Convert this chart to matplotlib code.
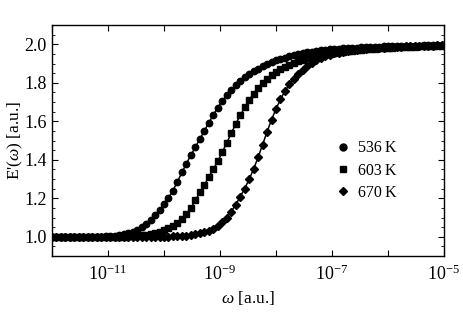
import numpy as np
import matplotlib
matplotlib.use("Agg")
from matplotlib import pyplot as plt
from matplotlib import ticker


#Data ----------------------------------------------------------#
# log10 of omega for every marker (same grid for all three temperatures)
log_w = [-12.00, -11.92, -11.84, -11.76, -11.68, -11.60, -11.52, -11.44, -11.36, -11.28,
         -11.20, -11.12, -11.04, -10.96, -10.88, -10.80, -10.72, -10.64, -10.56, -10.48,
         -10.40, -10.32, -10.24, -10.16, -10.08, -10.00, -9.92, -9.84, -9.76, -9.68,
         -9.60, -9.52, -9.44, -9.36, -9.28, -9.20, -9.12, -9.04, -8.96, -8.88,
         -8.80, -8.72, -8.64, -8.56, -8.48, -8.40, -8.32, -8.24, -8.16, -8.08,
         -8.00, -7.92, -7.84, -7.76, -7.68, -7.60, -7.52, -7.44, -7.36, -7.28,
         -7.20, -7.12, -7.04, -6.96, -6.88, -6.80, -6.72, -6.64, -6.56, -6.48,
         -6.40, -6.32, -6.24, -6.16, -6.08, -6.00, -5.92, -5.84, -5.76, -5.68,
         -5.60, -5.52, -5.44, -5.36, -5.28, -5.20, -5.12, -5.04]

e_536 = [1.000, 1.000, 1.000, 1.000, 1.000, 1.000, 1.000, 1.000, 1.000, 1.000,
         1.000, 1.001, 1.002, 1.003, 1.005, 1.008, 1.012, 1.018, 1.026, 1.036,
         1.049, 1.065, 1.085, 1.112, 1.140, 1.170, 1.202, 1.240, 1.286, 1.334,
         1.380, 1.424, 1.465, 1.508, 1.550, 1.592, 1.634, 1.670, 1.705, 1.736,
         1.762, 1.787, 1.810, 1.830, 1.846, 1.861, 1.874, 1.886, 1.897, 1.907,
         1.916, 1.924, 1.931, 1.938, 1.944, 1.949, 1.954, 1.958, 1.962, 1.965,
         1.968, 1.971, 1.973, 1.975, 1.977, 1.979, 1.980, 1.982, 1.983, 1.984,
         1.985, 1.986, 1.987, 1.988, 1.989, 1.989, 1.990, 1.991, 1.991, 1.992,
         1.992, 1.993, 1.993, 1.994, 1.994, 1.994, 1.995, 1.995]

e_603 = [1.000, 1.000, 1.000, 1.000, 1.000, 1.000, 1.000, 1.000, 1.000, 1.000,
         1.000, 1.000, 1.000, 1.000, 1.000, 1.001, 1.001, 1.002, 1.003, 1.005,
         1.007, 1.010, 1.014, 1.019, 1.026, 1.034, 1.044, 1.057, 1.073, 1.093,
         1.118, 1.150, 1.189, 1.230, 1.270, 1.310, 1.350, 1.393, 1.438, 1.488,
         1.537, 1.585, 1.630, 1.672, 1.710, 1.744, 1.774, 1.800, 1.822, 1.840,
         1.856, 1.870, 1.882, 1.893, 1.903, 1.912, 1.920, 1.927, 1.933, 1.938,
         1.943, 1.947, 1.951, 1.955, 1.958, 1.961, 1.964, 1.967, 1.969, 1.971,
         1.973, 1.975, 1.977, 1.979, 1.980, 1.982, 1.983, 1.984, 1.985, 1.986,
         1.987, 1.988, 1.989, 1.990, 1.991, 1.991, 1.992, 1.992]

e_670 = [1.000, 1.000, 1.000, 1.000, 1.000, 1.000, 1.000, 1.000, 1.000, 1.000,
         1.000, 1.000, 1.000, 1.000, 1.000, 1.000, 1.000, 1.000, 1.000, 1.000,
         1.000, 1.000, 1.000, 1.000, 1.000, 1.000, 1.001, 1.002, 1.003, 1.004,
         1.006, 1.009, 1.013, 1.018, 1.024, 1.032, 1.042, 1.056, 1.075, 1.100,
         1.130, 1.167, 1.207, 1.250, 1.298, 1.352, 1.412, 1.478, 1.545, 1.608,
         1.664, 1.714, 1.757, 1.792, 1.822, 1.847, 1.868, 1.888, 1.905, 1.918,
         1.929, 1.938, 1.946, 1.952, 1.957, 1.961, 1.965, 1.968, 1.971, 1.974,
         1.976, 1.978, 1.980, 1.982, 1.983, 1.985, 1.986, 1.987, 1.988, 1.989,
         1.990, 1.991, 1.991, 1.992, 1.993, 1.993, 1.994, 1.994]

temps = ["536\u2009K", "603\u2009K", "670\u2009K"]
markers = ["o", "s", "D"]
msizes = [4.6, 4.3, 4.1]

x_decades = [-12, -11, -10, -9, -8, -7, -6, -5]


#Plot setup ----------------------------------------------------#
plt.rcParams['font.family'] = ['Liberation Serif', 'DejaVu Serif']
plt.rcParams['mathtext.fontset'] = 'custom'
plt.rcParams['mathtext.rm'] = 'Liberation Serif'
plt.rcParams['mathtext.it'] = 'Liberation Serif:italic'
plt.rcParams['font.size'] = 13

fig = plt.figure(figsize=(4.63, 3.16), dpi=100)
ax = fig.add_axes([52/463, 1 - 256/316, (444 - 52)/463, (256 - 25)/316])

w = np.power(10.0, log_w)
for e, m, ms, lab in zip([e_536, e_603, e_670], markers, msizes, temps):
    ax.plot(w, e, color="black", lw=1.1, marker=m, ms=ms, mec="black", mfc="black")
    ax.plot([], [], ls="none", marker=m, ms=ms + 0.4, color="black", label=lab)

ax.set_xscale("log")
ax.set_xlim(1e-12, 1e-5)
ax.set_ylim(0.9, 2.1)

#ticks ---------------------------------------------------------#
ax.xaxis.set_major_locator(ticker.FixedLocator([10.0**k for k in x_decades]))
ax.xaxis.set_minor_locator(ticker.NullLocator())

def fmt_x(v, pos):
    k = int(round(np.log10(v)))
    if k % 2 == 0:
        return ""
    return r"$10^{%d}$" % k

ax.xaxis.set_major_formatter(ticker.FuncFormatter(fmt_x))
ax.yaxis.set_major_locator(ticker.MultipleLocator(0.2))
ax.yaxis.set_minor_locator(ticker.MultipleLocator(0.05))
ax.yaxis.set_major_formatter(ticker.FormatStrFormatter("%.1f"))

ax.tick_params(which="both", direction="in", top=True, right=True, labelsize=13)
ax.tick_params(which="major", length=4, width=0.8)
ax.tick_params(which="minor", length=2.2, width=0.6)
ax.tick_params(axis="x", pad=6)
ax.tick_params(axis="y", pad=4)
for s in ax.spines.values():
    s.set_linewidth(1.0)

ax.set_xlabel(r"$\mathit{\omega}$ [a.u.]", fontsize=12.5, labelpad=4)
ax.set_ylabel(r"E'($\mathit{\omega}$) [a.u.]", fontsize=12.5, labelpad=-1)

ax.legend(loc="center left", bbox_to_anchor=(0.70, 0.37), frameon=False,
          handlelength=0.7, handletextpad=0.6, labelspacing=0.4, fontsize=11.5,
          borderpad=0.2)

fig.savefig("out.png", dpi=100)
